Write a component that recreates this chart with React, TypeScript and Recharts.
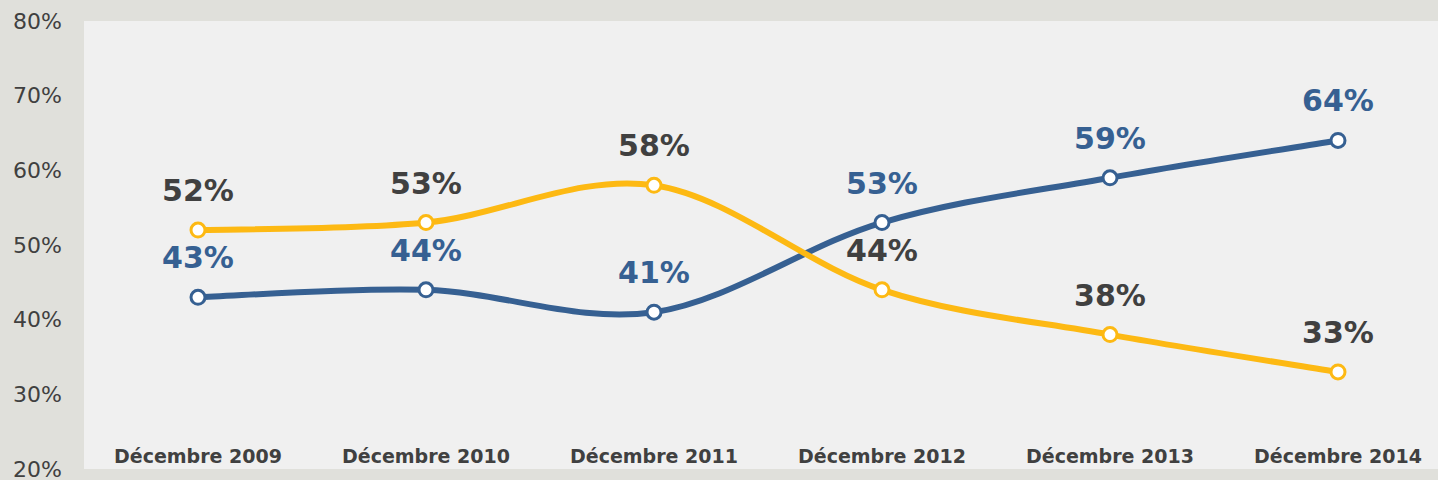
import { LineChart, Line, XAxis, YAxis, CartesianGrid, LabelList } from 'recharts'

const months = [
  'Décembre 2009',
  'Décembre 2010',
  'Décembre 2011',
  'Décembre 2012',
  'Décembre 2013',
  'Décembre 2014',
]
const blueValues = [43, 44, 41, 53, 59, 64]
const yellowValues = [52, 53, 58, 44, 38, 33]
const yTicks = [20, 30, 40, 50, 60, 70, 80]

const BLUE = '#366092'
const YELLOW = '#FDB913'
const TEXT = '#404040'
const FONT = '"DejaVu Sans", Verdana, sans-serif'

const chartData = months.map((month, i) => ({
  month,
  blue: blueValues[i],
  yellow: yellowValues[i],
}))

// Excel-like smoothing (uniform Catmull-Rom as cubic beziers)
function smoothCurve(context: any) {
  let pts: [number, number][] = []
  return {
    areaStart() {},
    areaEnd() {},
    lineStart() {
      pts = []
    },
    point(x: number, y: number) {
      pts.push([+x, +y])
    },
    lineEnd() {
      if (!pts.length) return
      context.moveTo(pts[0][0], pts[0][1])
      for (let i = 0; i < pts.length - 1; i++) {
        const p0 = pts[Math.max(i - 1, 0)]
        const p1 = pts[i]
        const p2 = pts[i + 1]
        const p3 = pts[Math.min(i + 2, pts.length - 1)]
        context.bezierCurveTo(
          p1[0] + (p2[0] - p0[0]) / 6,
          p1[1] + (p2[1] - p0[1]) / 6,
          p2[0] - (p3[0] - p1[0]) / 6,
          p2[1] - (p3[1] - p1[1]) / 6,
          p2[0],
          p2[1],
        )
      }
    },
  }
}

function XTick(props: any) {
  const { x, payload } = props
  return (
    <text
      x={x}
      y={463}
      textAnchor="middle"
      fill={TEXT}
      fontFamily={FONT}
      fontWeight="bold"
      fontSize={19}
    >
      {payload.value}
    </text>
  )
}

function makeLabel(color: string) {
  return (props: any) => {
    const { x, y, value } = props
    return (
      <text
        x={x}
        y={y - 29}
        textAnchor="middle"
        fill={color}
        fontFamily={FONT}
        fontWeight="bold"
        fontSize={30}
      >
        {value}%
      </text>
    )
  }
}

export default function App() {
  return (
    <div
      style={{
        position: 'absolute',
        top: 0,
        left: 0,
        width: 1438,
        height: 480,
        overflow: 'hidden',
        background: '#E0E0DB',
      }}
    >
      <LineChart
        width={1452}
        height={480}
        data={chartData}
        margin={{ top: 21, right: 0, bottom: 0, left: 0 }}
      >
        <CartesianGrid fill="#F0F0F0" horizontal={false} vertical={false} stroke="none" />
        <XAxis
          dataKey="month"
          height={11}
          padding={{ left: 114, right: 114 }}
          axisLine={false}
          tickLine={false}
          tick={<XTick />}
          interval={0}
        />
        <YAxis
          width={84}
          domain={[20, 80]}
          ticks={yTicks}
          interval={0}
          axisLine={false}
          tickLine={false}
          tickSize={0}
          tickMargin={22}
          tickFormatter={(v: number) => `${v}%`}
          tick={{ fill: TEXT, fontSize: 22, fontFamily: FONT }}
        />
        <Line
          dataKey="blue"
          type={smoothCurve as any}
          stroke={BLUE}
          strokeWidth={6}
          dot={{ r: 7, fill: '#FFFFFF', stroke: BLUE, strokeWidth: 3 }}
          activeDot={false}
          isAnimationActive={false}
        >
          <LabelList dataKey="blue" content={makeLabel(BLUE)} />
        </Line>
        <Line
          dataKey="yellow"
          type={smoothCurve as any}
          stroke={YELLOW}
          strokeWidth={6}
          dot={{ r: 7, fill: '#FFFFFF', stroke: YELLOW, strokeWidth: 3 }}
          activeDot={false}
          isAnimationActive={false}
        >
          <LabelList dataKey="yellow" content={makeLabel(TEXT)} />
        </Line>
      </LineChart>
    </div>
  )
}
